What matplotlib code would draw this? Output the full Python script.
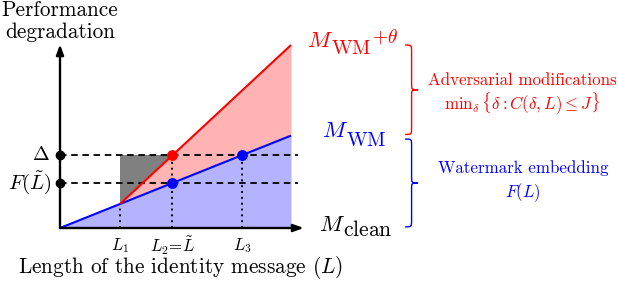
import numpy as np
import matplotlib
matplotlib.use("Agg")
import matplotlib.pyplot as plt
from matplotlib.path import Path
from matplotlib.patches import PathPatch

plt.rcParams['font.family'] = 'serif'
plt.rcParams['font.serif'] = ['cmr10']
plt.rcParams['mathtext.fontset'] = 'cm'
plt.rcParams['axes.unicode_minus'] = False

# ---- data (conceptual units) ----
x_max = 10.0
blue_x = [0.0, 10.0]          # M_WM line
blue_y = [0.0, 4.0]
red_x = [2.6, 10.0]           # M_WM+theta line
red_y = [1.04, 7.92]
L_vals = [2.6, 4.87, 7.875]   # L1, L2, L3
L_labels = [r'$L_1$', r'$L_2\!=\!\tilde{L}$', r'$L_3$']
level_delta = 3.15
level_F = 1.95
level_labels = [r'$\Delta$', r'$F(\tilde{L})$']

RED = '#ff0000'
BLUE = '#0000ff'

fig = plt.figure(figsize=(6.18, 2.82), dpi=100)
ax = fig.add_axes([0, 0, 1, 1])
s = 23.1
ax.set_xlim(-60 / s, 558 / s)
ax.set_ylim((228 - 282) / s, 228 / s)
ax.axis('off')

xb = np.array(blue_x)
yb = np.array(blue_y)
xr = np.array(red_x)
yr = np.array(red_y)

def blue_at(x):
    return np.interp(x, xb, yb)

# fills
ax.fill_between(xb, 0, yb, color='#b3b3ff', lw=0, zorder=1)
xx = np.linspace(red_x[0], red_x[1], 50)
ax.fill_between(xx, blue_at(xx), np.interp(xx, xr, yr), color='#ffb3b3', lw=0, zorder=1)
L1, L2, L3 = L_vals
ax.fill([L1, L1, L2], [blue_at(L1), level_delta, level_delta], color='#808080', lw=0, zorder=1)

# dashed levels
for lv in [level_delta, level_F]:
    ax.plot([0, 10.3], [lv, lv], color='black', lw=1.3, ls=(0, (3.6, 2.6)), zorder=3)

# dotted verticals
for xv, top in [(L1, blue_at(L1)), (L2, level_delta), (L3, level_delta)]:
    ax.plot([xv, xv], [0, top], color='black', lw=1.4, ls=(0, (1, 2)), zorder=3)

# lines
ax.plot(xb, yb, color=BLUE, lw=1.5, zorder=4, solid_capstyle='butt')
ax.plot(xr, yr, color=RED, lw=1.5, zorder=4, solid_capstyle='butt')

# axes arrows
ax.annotate('', xy=(10.55, 0), xytext=(0, 0),
            arrowprops=dict(arrowstyle='-|>,head_length=0.6,head_width=0.22', color='black', lw=1.7,
                            shrinkA=0, shrinkB=0), zorder=5)
ax.annotate('', xy=(0, 7.95), xytext=(0, 0),
            arrowprops=dict(arrowstyle='-|>,head_length=0.6,head_width=0.22', color='black', lw=1.7,
                            shrinkA=0, shrinkB=0), zorder=5)

# points
ax.plot([0, 0], [level_delta, level_F], 'o', color='black', ms=6.0, zorder=6)
ax.plot([L2], [level_delta], 'o', color=RED, ms=6.8, zorder=6)
ax.plot([L2, L3], [level_F, level_delta], 'o', color=BLUE, ms=6.8, zorder=6)

# labels
ax.text(-0.45, level_delta, level_labels[0], ha='right', va='center', fontsize=14.5)
ax.text(-0.36, level_F, level_labels[1], ha='right', va='center', fontsize=15)
for xv, lab in zip(L_vals, L_labels):
    ax.text(xv, -0.74, lab, ha='center', va='center', fontsize=12)
ax.text(5.24, -1.73, r'Length of the identity message ($L$)', ha='center', va='center', fontsize=15.3)
ax.text(0, 9.44, 'Performance', ha='center', va='center', fontsize=15.3)
ax.text(0, 8.48, 'degradation', ha='center', va='center', fontsize=15.3)

# model labels (subscripts at near full size, as in the reference)
def model_label(x, y, sub, color, sub_size, y_sub, sup=None, y_sup=None):
    m = ax.text(x, y, r'$M$', color=color, ha='left', va='baseline', fontsize=16.5)
    w = ax.annotate(sub, xy=(1, y_sub), xycoords=(m, 'data'), xytext=(-1.5, 0),
                    textcoords='offset points', color=color, ha='left', va='baseline',
                    fontsize=sub_size)
    if sup is not None:
        ax.annotate(sup, xy=(1, y_sup), xycoords=(w, 'data'), xytext=(0.5, 0),
                    textcoords='offset points', color=color, ha='left', va='baseline',
                    fontsize=14)

model_label(10.69, 7.84, r'$\mathrm{WM}$', RED, 14.5, 7.53, sup=r'$+\theta$', y_sup=8.01)
model_label(11.34, 3.94, r'$\mathrm{WM}$', BLUE, 14.5, 3.55)
model_label(11.21, -0.13, r'$\mathrm{clean}$', 'black', 15.5, -0.35)

# braces
def brace(x0, ytop, ybot, w, color):
    r = w / 2
    ym = (ytop + ybot) / 2
    verts = [(x0, ytop),
             (x0 + r, ytop), (x0 + r, ytop), (x0 + r, ytop - r),
             (x0 + r, ym + r),
             (x0 + r, ym), (x0 + r, ym), (x0 + w, ym),
             (x0 + r, ym), (x0 + r, ym), (x0 + r, ym - r),
             (x0 + r, ybot + r),
             (x0 + r, ybot), (x0 + r, ybot), (x0, ybot)]
    codes = [Path.MOVETO,
             Path.CURVE4, Path.CURVE4, Path.CURVE4,
             Path.LINETO,
             Path.CURVE4, Path.CURVE4, Path.CURVE4,
             Path.CURVE4, Path.CURVE4, Path.CURVE4,
             Path.LINETO,
             Path.CURVE4, Path.CURVE4, Path.CURVE4]
    ax.add_patch(PathPatch(Path(verts, codes), fill=False, edgecolor=color, lw=1.0, zorder=5))

brace(14.94, 7.92, 4.05, 0.56, RED)
brace(14.94, 3.85, 0.05, 0.56, BLUE)

ax.text(20.0, 6.41, 'Adversarial modifications', color=RED, ha='center', va='center', fontsize=12.2)
ax.text(20.0, 5.41, r'$\mathrm{min}_{\delta}\,\{\delta{:}C(\delta,L)\leq J\}$', color=RED,
        ha='center', va='center', fontsize=12.2)
ax.text(20.04, 2.60, 'Watermark embedding', color=BLUE, ha='center', va='center', fontsize=12.2)
ax.text(20.04, 1.52, r'$F(L)$', color=BLUE, ha='center', va='center', fontsize=12.2)

fig.savefig('out.png', dpi=100)
